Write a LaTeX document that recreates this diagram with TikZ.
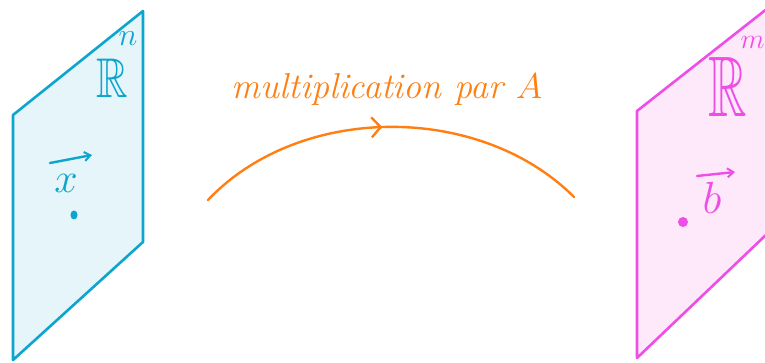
\RequirePackage{fix-cm}
\documentclass[tikz,border=0pt]{standalone}
\usepackage{amsmath,amssymb,graphicx}
\usetikzlibrary{decorations.markings,arrows.meta}
\definecolor{cyanline}{HTML}{0BA5CE}
\definecolor{cyanfill}{HTML}{E6F5FA}
\definecolor{magline}{HTML}{EE4EE6}
\definecolor{magfill}{HTML}{FDE9FA}
\definecolor{orangeline}{HTML}{FF7F12}
\tikzset{
  plane/.style={line width=2.6pt, line join=round},
  lbl/.style={inner sep=0pt, text depth=0pt},
  vecarrow/.style={line width=2.4pt, line cap=round, -{Straight Barb[length=6pt,width=9pt,line width=2pt]}},
}
\begin{document}
\begin{tikzpicture}[x=1pt,y=-1pt]
\useasboundingbox (0,0) rectangle (765,363);
\begin{scope}
\clip (0,0) rectangle (765,363);
% left plane
\draw[plane, draw=cyanline, fill=cyanfill] (13,115) -- (143,11) -- (143,242) -- (13,360) -- cycle;
% right plane
\draw[plane, draw=magline, fill=magfill] (637,111) -- (768,8) -- (768,233) -- (637,358) -- cycle;
\end{scope}
% labels left
\node[lbl, text=cyanline, anchor=base west] (Rn) at (96,98)
  {\scalebox{0.78}[1]{\fontsize{56}{58}\selectfont $\mathbb{R}$}\kern-9pt\raisebox{52pt}{\fontsize{32}{34}\selectfont $n$}};
\node[lbl, text=cyanline, text height=18pt] (x) at (66,184) {\fontsize{42}{44}\selectfont $x$};
\coordinate (xa) at (50,163);
\coordinate (xb) at (92,155);
\draw[vecarrow, cyanline] (xa) -- (xb);
\fill[cyanline] (74,215) ellipse (3.5pt and 4.5pt);
% labels right
\node[lbl, text=magline, anchor=base west] (Rm) at (708,117)
  {\scalebox{0.62}[1]{\fontsize{86}{88}\selectfont $\mathbb{R}$}\kern-6pt\raisebox{68pt}{\fontsize{28}{30}\selectfont $m$}};
\node[lbl, text=magline, text height=31pt] (b) at (712,198) {\fontsize{45}{47}\selectfont $b$};
\coordinate (ba) at (697,176);
\coordinate (bb) at (735,172);
\draw[vecarrow, magline] (ba) -- (bb);
\fill[magline] (683,222) circle (5pt);
% arc
\coordinate (s) at (208,200);
\coordinate (e) at (574,197);
\draw[orangeline, line width=2.4pt, line cap=round,
  decoration={markings, mark=at position 0.48 with {\arrow{Straight Barb[length=9pt,width=20pt,line width=2.4pt]}}},
  postaction={decorate}]
  (s) .. controls (300,103) and (480,103) .. (e);
\node[lbl, text=orangeline] (lab) at (387,86) {\fontsize{36}{40}\selectfont\itshape multiplication par $A$};
\end{tikzpicture}
\end{document}
